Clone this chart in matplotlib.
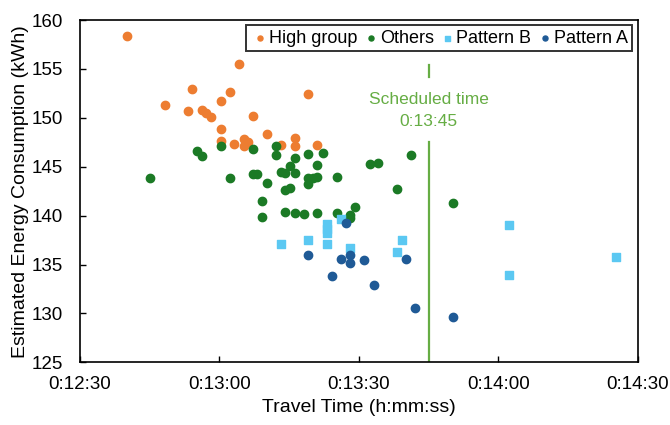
import matplotlib
matplotlib.use("Agg")
import matplotlib.pyplot as plt
from matplotlib.ticker import FuncFormatter, MultipleLocator

plt.rcParams['font.family'] = ['Liberation Sans', 'DejaVu Sans']

# travel time in seconds, energy in kWh
high_t = [760.1, 768.2, 774.1, 773.3, 776.2, 777.2, 778.1, 780.3, 782.2, 784.3, 780.3, 780.3,
          783.2, 785.2, 785.2, 786.2, 787.2, 790.2, 793.2, 796.2, 796.2, 799.1, 801.1]
high_e = [158.4, 151.3, 152.9, 150.7, 150.8, 150.5, 150.1, 151.7, 152.6, 155.5, 148.9, 147.6,
          147.3, 147.8, 147.1, 147.5, 150.2, 148.3, 147.2, 147.9, 147.1, 152.4, 147.2]

others_t = [765.1, 775.2, 776.2, 780.3, 782.2, 787.2, 787.2, 788.1, 790.2, 789.2, 789.2, 792.2,
            792.2, 793.2, 794.2, 795.2, 796.2, 796.2, 794.2, 795.2, 794.2, 796.2, 798.3, 799.1,
            799.1, 799.1, 800.1, 801.1, 801.1, 802.3, 801.1, 805.3, 805.3, 808.1, 808.1, 809.1,
            812.3, 814.2, 818.2, 821.2, 830.2]
others_e = [143.8, 146.6, 146.1, 147.1, 143.8, 146.8, 144.3, 144.3, 143.3, 141.5, 139.9, 147.1,
            146.2, 144.5, 144.4, 145.1, 144.4, 145.9, 142.6, 142.8, 140.4, 140.3, 140.2, 146.3,
            143.8, 143.2, 143.8, 143.9, 145.2, 146.4, 140.3, 143.9, 140.3, 139.8, 140.1, 140.9,
            145.3, 145.4, 142.7, 146.2, 141.3]

patB_t = [793.2, 799.1, 803.2, 803.2, 803.2, 803.2, 806.2, 808.1, 818.2, 819.3, 842.3, 842.3, 865.3]
patB_e = [137.1, 137.5, 139.1, 138.6, 138.2, 137.1, 139.7, 136.7, 136.3, 137.5, 139.0, 133.9, 135.8]

patA_t = [799.1, 804.2, 806.2, 807.2, 808.1, 808.1, 811.2, 813.2, 820.2, 822.1, 830.2]
patA_e = [136.0, 133.8, 135.6, 139.2, 136.0, 135.2, 135.5, 132.9, 135.6, 130.6, 129.6]

scheduled = 825  # 0:13:45


def hms(v, pos=None):
    v = int(round(v))
    return "%d:%02d:%02d" % (v // 3600, (v % 3600) // 60, v % 60)


fig = plt.figure(figsize=(6.7, 4.25), dpi=100)
ax = fig.add_axes([0.1194, 0.1475, 0.8324, 0.8054])

ax.scatter(high_t, high_e, s=36, color='#ED7D31', label='High group', zorder=3)
ax.scatter(others_t, others_e, s=36, color='#1B7A25', label='Others', zorder=3)
ax.scatter(patB_t, patB_e, s=36, marker='s', color='#5BC8F2', label='Pattern B', zorder=3)
ax.scatter(patA_t, patA_e, s=36, color='#1F5A96', label='Pattern A', zorder=3)

sched_color = '#66AD44'
ax.plot([scheduled, scheduled], [125, 147.5], color=sched_color, lw=1.6, zorder=2)
ax.plot([scheduled, scheduled], [154.2, 155.4], color=sched_color, lw=1.6, zorder=2)
ax.text(scheduled, 151.9, 'Scheduled time', color=sched_color, fontsize=12.5, ha='center', va='center')
ax.text(scheduled, 149.6, hms(scheduled), color=sched_color, fontsize=12.5, ha='center', va='center')

ax.set_xlim(750, 870)
ax.set_ylim(125, 160)
ax.xaxis.set_major_locator(MultipleLocator(30))
ax.yaxis.set_major_locator(MultipleLocator(5))
ax.xaxis.set_major_formatter(FuncFormatter(hms))
ax.tick_params(direction='in', labelsize=13.5, length=4, width=1, colors='black')
ax.tick_params(axis='y', pad=12)
ax.tick_params(axis='x', pad=10)
for sp in ax.spines.values():
    sp.set_linewidth(1.2)

ax.set_xlabel('Travel Time (h:mm:ss)', fontsize=14, labelpad=4)
ax.set_ylabel('Estimated Energy Consumption (kWh)', fontsize=14, labelpad=2)

leg = ax.legend(loc='upper right', ncol=4, fontsize=13, frameon=True, fancybox=False,
                handletextpad=0.0, columnspacing=0.25, borderpad=0.25, handlelength=1.0,
                markerscale=0.6, borderaxespad=0.3)
leg.get_frame().set_edgecolor('black')
leg.get_frame().set_linewidth(1.4)

fig.savefig('out.png', dpi=100)
